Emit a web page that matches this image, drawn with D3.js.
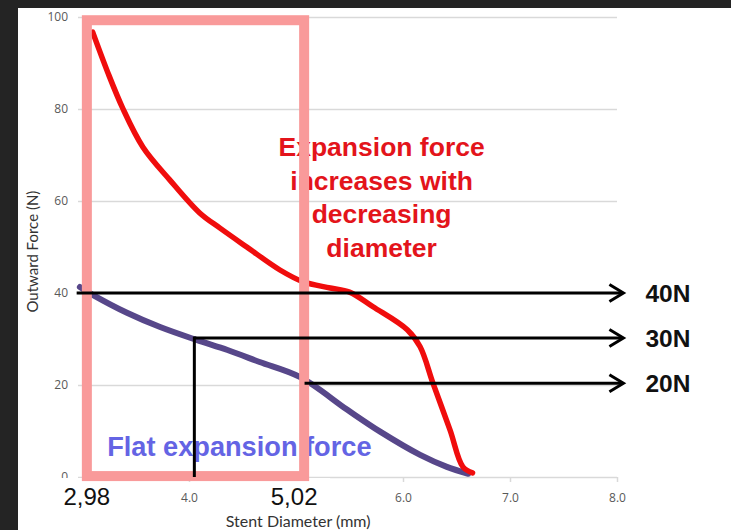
<!DOCTYPE html>
<html><head><meta charset="utf-8">
<script src="https://cdn.jsdelivr.net/npm/d3@7"></script>
<style>html,body{margin:0;padding:0;background:#fff;}svg{display:block;}</style>
</head><body>
<svg id="c" width="731" height="530"></svg>
<script>
// ---- data ----
const xTicks = [3, 4, 5, 6, 7, 8];
const xTickLabels = ["", "4.0", "", "6.0", "7.0", "8.0"];
const yTicks = [0, 20, 40, 60, 80, 100];
const redX = [3.10, 3.24, 3.38, 3.57, 3.82, 4.10, 4.29, 4.54, 4.85, 5.07, 5.32, 5.50, 5.72, 6.04, 6.16, 6.28, 6.44, 6.56, 6.65];
const redY = [96.7, 88.0, 80.2, 71.7, 64.6, 57.4, 54.1, 50.0, 45.0, 42.4, 41.1, 40.2, 37.0, 32.0, 28.3, 20.4, 10.2, 2.2, 0.9];
const purpleX = [2.98, 3.10, 3.42, 3.73, 4.07, 4.36, 4.66, 5.04, 5.48, 5.79, 6.16, 6.41, 6.61];
const purpleY = [41.3, 39.6, 35.7, 32.6, 29.8, 27.6, 25.0, 21.7, 14.6, 9.8, 4.8, 2.2, 0.7];
const arrowLevels = [40, 30.2, 20.4];
const arrowStarts = [2.95, 4.05, 5.08];
const arrowEnd = 8.06;
const arrowLabels = ["40N", "30N", "20N"];
const boxRange = [2.98, 5.02];
const boxLabels = ["2,98", "5,02"];
const redText = ["Expansion force", "increases with", "decreasing", "diameter"];
const blueText = "Flat expansion force";
const xTitle = "Stent Diameter (mm)";
const yTitle = "Outward Force (N)";

// ---- drawing ----
const svg = d3.select("#c");
const x = d3.scaleLinear().domain([3, 8]).range([82, 617]);
const y = d3.scaleLinear().domain([0, 100]).range([477, 17]);

// dark frame
svg.append("rect").attr("x", 0).attr("y", 0).attr("width", 731).attr("height", 8).attr("fill", "#242424");
svg.append("rect").attr("x", 0).attr("y", 0).attr("width", 18).attr("height", 530).attr("fill", "#242424");

// y grid + labels
const gy = svg.append("g").attr("transform", `translate(${x(3)},0)`)
  .call(d3.axisLeft(y).tickValues(yTicks).tickSize(-(x(8) - x(3))).tickPadding(14).tickFormat(d3.format("d")));
gy.select(".domain").remove();
gy.selectAll(".tick line").attr("x1", -4).attr("stroke", "#d9d9d9").attr("stroke-width", 1.5);
gy.selectAll(".tick text").attr("fill", "#595959").attr("font-family", "Open Sans, sans-serif").attr("font-size", 12);

// x ticks
const gx = svg.append("g").attr("transform", `translate(0,${y(0)})`)
  .call(d3.axisBottom(x).tickValues(xTicks).tickSize(5).tickPadding(11).tickFormat((d, i) => xTickLabels[i]));
gx.select(".domain").remove();
gx.selectAll(".tick line").attr("stroke", "#d9d9d9").attr("stroke-width", 1.5);
gx.selectAll(".tick text").attr("fill", "#595959").attr("font-family", "Open Sans, sans-serif").attr("font-size", 12);

// axis titles
svg.append("text").attr("transform", `translate(38,${y(49)}) rotate(-90)`).attr("text-anchor", "middle")
  .attr("font-family", "Lato, sans-serif").attr("font-size", 15).attr("fill", "#333").text(yTitle);
svg.append("text").attr("x", x(5.02)).attr("y", 527).attr("text-anchor", "middle")
  .attr("font-family", "Lato, sans-serif").attr("font-size", 16).attr("fill", "#333").text(xTitle);

// curves
const line = d3.line().x(d => x(d[0])).y(d => y(d[1])).curve(d3.curveCatmullRom.alpha(0.5));
svg.append("path").datum(purpleX.map((v, i) => [v, purpleY[i]])).attr("d", line)
  .attr("fill", "none").attr("stroke", "#57478a").attr("stroke-width", 6).attr("stroke-linecap", "round").attr("stroke-linejoin", "round");
svg.append("path").datum(redX.map((v, i) => [v, redY[i]])).attr("d", line)
  .attr("fill", "none").attr("stroke", "#f00d0d").attr("stroke-width", 5.5).attr("stroke-linecap", "round").attr("stroke-linejoin", "round");

// annotation texts
const rt = svg.append("text").attr("text-anchor", "middle").attr("font-family", "Liberation Sans, Arial, sans-serif")
  .attr("font-weight", "bold").attr("font-size", 26.5).attr("fill", "#e3141b");
redText.forEach((t, i) => rt.append("tspan").attr("x", x(5.8)).attr("y", 156 + i * 33.7).text(t));
svg.append("text").attr("x", x(3.235)).attr("y", 456).attr("font-family", "Liberation Sans, Arial, sans-serif")
  .attr("font-weight", "bold").attr("font-size", 27.2).attr("fill", "#6464e4").text(blueText);

// white masks with overridden labels
boxRange.forEach((v, i) => {
  svg.append("rect").attr("x", x(v) - 32).attr("y", y(0) + 1).attr("width", 64).attr("height", 32).attr("fill", "#fff");
  svg.append("text").attr("x", x(v) + (i === 0 ? 7 : -4)).attr("y", 505).attr("text-anchor", "middle")
    .attr("font-family", "Liberation Sans, Arial, sans-serif").attr("font-size", 24).attr("fill", "#111").text(boxLabels[i]);
});

// pink box
svg.append("rect").attr("x", x(boxRange[0]) + 7).attr("y", y(99.3)).attr("width", x(boxRange[1]) - x(boxRange[0]) - 1)
  .attr("height", y(0.2) - y(99.3)).attr("fill", "none").attr("stroke", "#f99a9a").attr("stroke-width", 10);

// arrows
arrowLevels.forEach((lv, i) => {
  const yy = y(lv), x0 = x(arrowStarts[i]), x1 = x(arrowEnd);
  svg.append("line").attr("x1", x0).attr("x2", x1 - 1).attr("y1", yy).attr("y2", yy).attr("stroke", "#000").attr("stroke-width", 3);
  svg.append("path").attr("d", `M${x1 - 14},${yy - 8.5}L${x1},${yy}L${x1 - 14},${yy + 8.5}`)
    .attr("fill", "none").attr("stroke", "#000").attr("stroke-width", 3).attr("stroke-linejoin", "miter");
  svg.append("text").attr("x", x1 + 22).attr("y", yy + 9).attr("font-family", "Liberation Sans, Arial, sans-serif")
    .attr("font-weight", "bold").attr("font-size", 24.5).attr("fill", "#111").text(arrowLabels[i]);
});
// vertical drop line for 30N
svg.append("line").attr("x1", x(arrowStarts[1])).attr("x2", x(arrowStarts[1])).attr("y1", y(arrowLevels[1]) - 1.5).attr("y2", y(0))
  .attr("stroke", "#000").attr("stroke-width", 3);
</script>
</body></html>
